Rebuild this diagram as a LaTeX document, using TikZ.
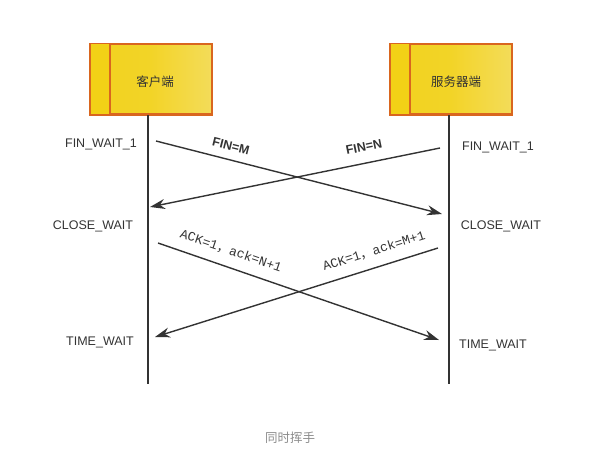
\documentclass[tikz,border=0pt]{standalone}
\usepackage{fontspec}
\setmainfont{Liberation Sans}
\newfontfamily\cjk{Noto Sans CJK SC}
\newfontfamily\ackfont{Liberation Mono}
\usetikzlibrary{arrows.meta}
\definecolor{edge}{HTML}{D9661F}
\definecolor{gold}{HTML}{F2D116}
\definecolor{cream}{HTML}{F6EDC2}
\definecolor{ink}{HTML}{333333}
\pgfdeclarehorizontalshading{peershade}{100bp}{color(0bp)=(gold); color(50bp)=(gold!90!cream); color(80bp)=(gold!55!cream); color(100bp)=(cream)}
\newcommand{\boxwd}[0] {121}

\begin{document}
\begin{tikzpicture}[x=1pt,y=-1pt,
    peer/.style={draw=edge,line width=1.5pt,shading=peershade,minimum width=\boxwd pt,minimum height=70pt,inner sep=0pt,font=\cjk\fontsize{12.5}{14}\selectfont,text=ink},
    life/.style={draw=ink,line width=1.6pt},
    msg/.style={draw=ink,line width=1.4pt,-{Stealth[length=15pt,width=10pt]}},
    state/.style={text=ink,font=\fontsize{12.5}{15}\selectfont},
    fin/.style={text=ink,font=\bfseries\fontsize{12.5}{15}\selectfont},
    ack/.style={text=ink,font=\ackfont\fontsize{13}{15}\selectfont}]
        \useasboundingbox (0,0) rectangle (599,453);

        \node[peer] (client) at (151,79)     {\hspace*{8pt}\raisebox{-7.5pt}[0pt][0pt]{客户端}};
        \node[peer] (server) at (451,79)     {\hspace*{10pt}\raisebox{-7.5pt}[0pt][0pt]{服务器端}};
        \fill[gold] (client.north west) rectangle ([xshift=20pt]client.south west);
        \fill[gold] (server.north west) rectangle ([xshift=20pt]server.south west);
        \draw[edge,line width=1.5pt] ([xshift=20pt]client.north west) -- ([xshift=20pt]client.south west);
        \draw[edge,line width=1.5pt] ([xshift=20pt]server.north west) -- ([xshift=20pt]server.south west);
        \draw[edge,line width=1.5pt] (client.north west) rectangle (client.south east);
        \draw[edge,line width=1.5pt] (server.north west) rectangle (server.south east);

        % lifelines
        \coordinate (ctop) at (148,115);
        \coordinate (cend) at (148,384);
        \coordinate (stop) at (449,115);
        \coordinate (send) at (449,384);
        \path[life] (ctop) -- (cend);
        \path[life] (stop) -- (send);

        % message ends
        \coordinate (m1) at (156,141);
        \coordinate (m2) at (442,214);
        \coordinate (n1) at (440,148);
        \coordinate (n2) at (150,207);
        \coordinate (a1) at (158,243);
        \coordinate (a2) at (439,340);
        \coordinate (b1) at (438,248);
        \coordinate (b2) at (155,337);

        \path[msg] (m1) -- (m2);
        \path[msg] (n1) -- (n2);
        \path[msg] (a1) -- (a2);
        \path[msg] (b1) -- (b2);

        %labels on the messages
        \node[fin,rotate=-14] (lm) at (231,146) {FIN=M};
        \node[fin,rotate=11.5] (ln) at (364,147) {FIN=N};
        \node[ack,rotate=-19] (la) at (231,251) {ACK=1{\cjk ，}ack=N+1};
        \node[ack,rotate=17.5] (lb) at (374,251) {ACK=1{\cjk ，}ack=M+1};

        %states
        \node[state] (c1) at (101,144) {FIN\_WAIT\_1};
        \node[state] (c2) at (93,226)  {CLOSE\_WAIT};
        \node[state] (c3) at (100,342) {TIME\_WAIT};
        \node[state] (s1) at (498,147) {FIN\_WAIT\_1};
        \node[state] (s2) at (501,226) {CLOSE\_WAIT};
        \node[state] (s3) at (493,345) {TIME\_WAIT};

        \node[text=black!45,font=\cjk\fontsize{12.5}{14}\selectfont] (cap) at (290,438) {同时挥手};
	\end{tikzpicture}
\end{document}
